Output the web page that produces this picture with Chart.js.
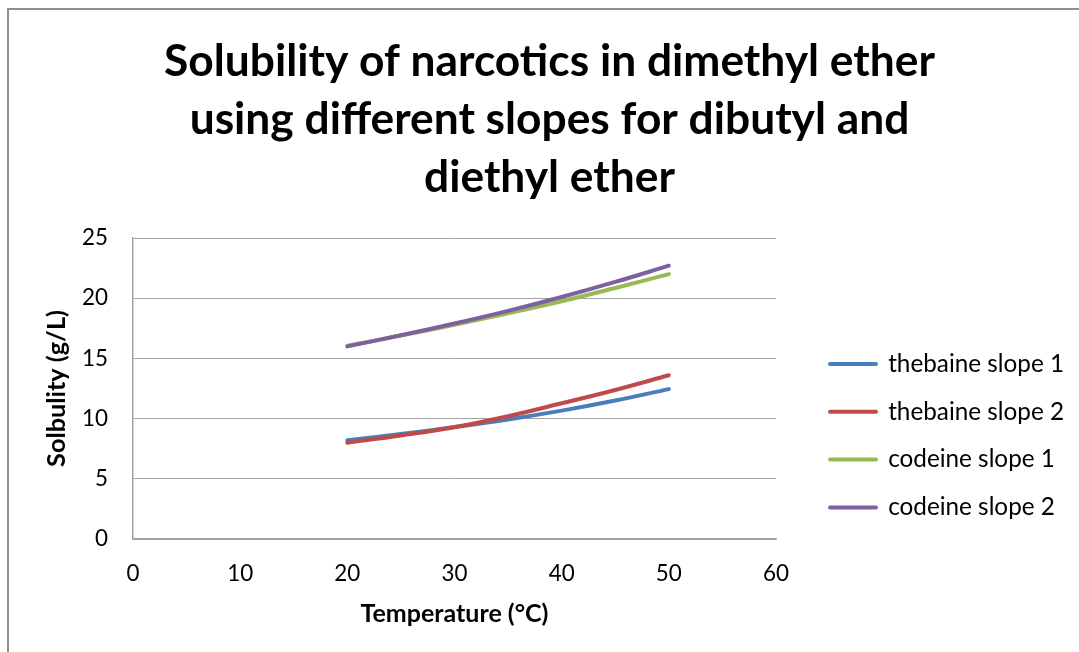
<!DOCTYPE html>
<html>
<head>
<meta charset="utf-8">
<script src="https://cdn.jsdelivr.net/npm/chart.js@4.4.1/dist/chart.umd.min.js"></script>
<style>
  html, body { margin: 0; padding: 0; background: #ffffff; overflow: hidden; width: 1079px; height: 652px; }
  #frame { position: absolute; left: 7px; top: 8px; width: 2000px; height: 2000px;
           border-left: 2px solid #8e8e8e; border-top: 2px solid #8e8e8e; }
  #wrap { position: absolute; left: 0; top: 0; width: 1079px; height: 652px; }
</style>
</head>
<body>
<div id="frame"></div>
<div id="wrap"><canvas id="c" width="1079" height="652"></canvas></div>
<script>
// ---------- data ----------
const temperatures    = [20, 25, 30, 35, 40, 45, 50];
const thebaineSlope1  = [8.2, 8.72, 9.3, 9.93, 10.66, 11.5, 12.45];
const thebaineSlope2  = [8.0, 8.6, 9.28, 10.2, 11.27, 12.38, 13.6];
const codeineSlope1   = [16.05, 16.9, 17.8, 18.75, 19.75, 20.85, 22.0];
const codeineSlope2   = [16.0, 16.92, 17.9, 18.95, 20.1, 21.35, 22.7];
const seriesNames     = ['thebaine slope 1', 'thebaine slope 2', 'codeine slope 1', 'codeine slope 2'];
const seriesColors    = ['#4A7EBB', '#BE4B48', '#98B954', '#7D60A0'];
const xTickRange      = [0, 60, 10];   // min, max, step
const yTickRange      = [0, 25, 5];
const titleLines      = ['Solubility of narcotics in dimethyl ether',
                         'using different slopes for dibutyl and',
                         'diethyl ether'];
const xAxisTitle      = 'Temperature (°C)';
const yAxisTitle      = 'Solbulity (g/L)';

// ---------- layout helpers ----------
const FAMILY = "Lato, 'Open Sans', sans-serif";
const mctx = document.createElement('canvas').getContext('2d');
function fitSize(text, weight, target) {
  mctx.font = weight + ' 100px ' + FAMILY;
  return 100 * target / mctx.measureText(text).width;
}
const W = 1079, H = 652;
const PLOT_LEFT = 133, PLOT_RIGHT = 776, PLOT_TOP = 238, PLOT_BOTTOM = 539;

const titleFs  = fitSize(titleLines[0], 700, 771);
const tickFs   = fitSize('25', 400, 26);
const legFs    = fitSize(seriesNames[0], 400, 176);
const xTitleFs = fitSize(xAxisTitle, 700, 188);
const yTitleFs = fitSize(yAxisTitle, 700, 157);

const TITLE_LH = 58;
const titlePadTop = 62 - TITLE_LH / 2;
const titlePadBottom = PLOT_TOP - 3 * TITLE_LH - titlePadTop;

const LEG_X = 830, LEG_Y0 = 364, LEG_STEP = 47.8, LEG_BOX = 46;
const legPad = LEG_STEP - legFs;
const TITLE_SHIFT = 10;

const layoutTweak = {
  id: 'layoutTweak',
  beforeLayout(chart) {
    const lg = chart.legend;
    if (lg && !lg.__patched) {
      const orig = lg.fit;
      lg.fit = function () { orig.call(this); this.width = W - PLOT_RIGHT; };
      lg.__patched = true;
    }
  },
  afterLayout(chart) {
    const lg = chart.legend;
    if (lg) {
      lg.left = LEG_X - legPad; lg.right = W; lg.width = lg.right - lg.left;
      lg.top = LEG_Y0 - legFs / 2 - legPad; lg.bottom = H; lg.height = lg.bottom - lg.top;
    }
    const tb = chart.titleBlock;
    if (tb) { tb.left += TITLE_SHIFT; tb.right += TITLE_SHIFT; }
  }
};

const seriesValues = [thebaineSlope1, thebaineSlope2, codeineSlope1, codeineSlope2];
const datasets = seriesValues.map((vals, i) => ({
  label: seriesNames[i],
  data: temperatures.map((t, j) => ({ x: t, y: vals[j] })),
  borderColor: seriesColors[i],
  backgroundColor: seriesColors[i],
  borderWidth: 4,
  borderCapStyle: 'round',
  borderJoinStyle: 'round',
  pointRadius: 0,
  pointHoverRadius: 0,
  showLine: true,
  fill: false,
  tension: 0.4,
  order: seriesValues.length - i
}));

const gridColor = '#a2a2a2';
const textColor = '#000000';

new Chart(document.getElementById('c'), {
  type: 'scatter',
  data: { datasets },
  plugins: [layoutTweak],
  options: {
    responsive: false,
    animation: false,
    devicePixelRatio: 1,
    layout: { padding: 0 },
    plugins: {
      tooltip: { enabled: false },
      title: {
        display: true,
        text: titleLines,
        color: textColor,
        font: { family: FAMILY, weight: '700', size: titleFs, lineHeight: TITLE_LH + 'px' },
        padding: { top: titlePadTop, bottom: titlePadBottom }
      },
      legend: {
        display: true,
        position: 'right',
        align: 'start',
        fullSize: false,
        labels: {
          color: textColor,
          font: { family: FAMILY, size: legFs },
          boxWidth: LEG_BOX,
          boxHeight: 0,
          padding: legPad,
          sort: (a, b) => a.datasetIndex - b.datasetIndex
        }
      }
    },
    scales: {
      x: {
        type: 'linear',
        min: xTickRange[0], max: xTickRange[1],
        afterFit: (s) => { s.height = H - PLOT_BOTTOM; },
        ticks: {
          stepSize: xTickRange[2],
          color: textColor,
          font: { family: FAMILY, size: tickFs },
          padding: 35 - tickFs * 1.2 / 2,
          maxRotation: 0
        },
        grid: { display: false, drawTicks: false },
        border: { display: true, color: gridColor, width: 1.5 },
        title: {
          display: true,
          text: xAxisTitle,
          color: textColor,
          font: { family: FAMILY, weight: '700', size: xTitleFs },
          padding: { top: 0, bottom: (H - 614) - xTitleFs * 1.2 / 2 }
        }
      },
      y: {
        type: 'linear',
        min: yTickRange[0], max: yTickRange[1],
        afterFit: (s) => { s.width = PLOT_LEFT; },
        ticks: {
          stepSize: yTickRange[2],
          color: textColor,
          font: { family: FAMILY, size: tickFs },
          padding: PLOT_LEFT - 108
        },
        grid: { display: true, color: gridColor, lineWidth: 1, drawTicks: false },
        border: { display: true, color: gridColor, width: 1.5 },
        title: {
          display: true,
          text: yAxisTitle,
          color: textColor,
          font: { family: FAMILY, weight: '700', size: yTitleFs },
          padding: { top: 57 - yTitleFs * 1.2 / 2, bottom: 0 }
        }
      }
    }
  }
});
</script>
</body>
</html>
